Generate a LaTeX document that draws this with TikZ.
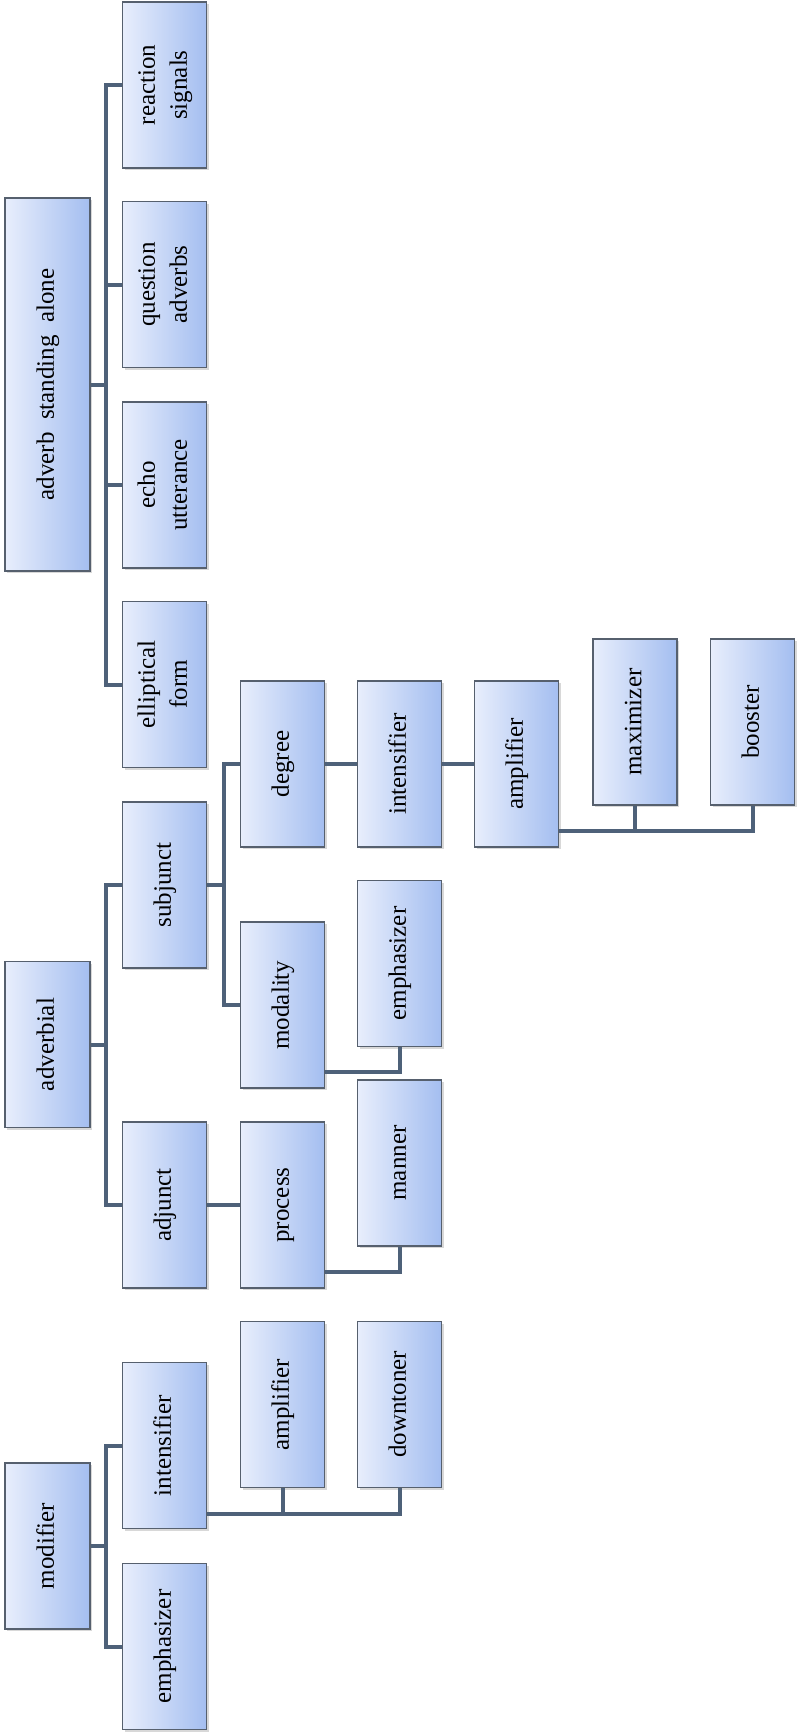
\documentclass[tikz,border=0pt]{standalone}
\usepackage{fontspec}
\setmainfont{Liberation Serif}
\usepackage{graphicx}
\usetikzlibrary{shadows}
\definecolor{boxL}{HTML}{E8EEFC}
\definecolor{boxR}{HTML}{A4BEF0}
\definecolor{boxB}{HTML}{56606E}
\definecolor{lnk}{HTML}{4E6179}
\newcommand{\rtxt}[1]{\rotatebox{90}{\begin{tabular}{@{}c@{}}#1\end{tabular}}}
\begin{document}
\begin{tikzpicture}[x=1pt,y=-1pt,
  box/.style={draw=boxB, line width=1.1pt, left color=boxL, right color=boxR,
    minimum width=84pt, minimum height=166pt, inner sep=0pt,
    font=\fontsize{25}{32}\selectfont,
    drop shadow={opacity=0.3, shadow xshift=2pt, shadow yshift=-2pt}},
  link/.style={draw=lnk, line width=4pt, line join=miter}]
\useasboundingbox (0,0) rectangle (798,1733);
\fill[white] (0,0) rectangle (798,1733);

% adverb standing alone branch
\node[box, minimum height=373pt, minimum width=85pt] (asa) at (47.5,384.5) {\rtxt{adverb\ \ standing\ \ alone}};
\node[box] (rs) at (164.5,85) {\rtxt{reaction\\signals}};
\node[box] (qa) at (164.5,284.5) {\rtxt{question\\adverbs}};
\node[box] (eu) at (164.5,485) {\rtxt{echo\\utterance}};
\node[box] (ef) at (164.5,684.5) {\rtxt{elliptical\\form}};

% adverbial branch
\node[box, minimum width=85pt] (adv) at (47.5,1044.5) {\rtxt{adverbial}};
\node[box] (subj) at (164.5,885) {\rtxt{subjunct}};
\node[box] (adj) at (164.5,1205) {\rtxt{adjunct}};
\node[box] (deg) at (282.5,764) {\rtxt{degree}};
\node[box] (mod) at (282.5,1005) {\rtxt{modality}};
\node[box] (proc) at (282.5,1205) {\rtxt{process}};
\node[box] (int2) at (399.5,764) {\rtxt{intensifier}};
\node[box] (emph2) at (399.5,963.5) {\rtxt{emphasizer}};
\node[box] (man) at (399.5,1163) {\rtxt{manner}};
\node[box] (amp2) at (516.5,764) {\rtxt{amplifier}};
\node[box] (max) at (635,722) {\rtxt{maximizer}};
\node[box] (boo) at (752.5,722) {\rtxt{booster}};

% modifier branch
\node[box, minimum width=85pt] (modi) at (47.5,1546) {\rtxt{modifier}};
\node[box] (int1) at (164.5,1445.5) {\rtxt{intensifier}};
\node[box] (emph1) at (164.5,1646.5) {\rtxt{emphasizer}};
\node[box] (amp1) at (282.5,1404.5) {\rtxt{amplifier}};
\node[box] (down) at (399.5,1404.5) {\rtxt{downtoner}};

% connectors
\draw[link] (asa.east) -- ++(15,0) coordinate (tA);
\foreach \c in {rs,qa,eu,ef} \draw[link] (\c.west) -| (tA);

\draw[link] (adv.east) -- ++(15,0) coordinate (tB);
\draw[link] (subj.west) -| (tB);
\draw[link] (adj.west) -| (tB);

\draw[link] (subj.east) -- ++(17,0) coordinate (tC);
\draw[link] (deg.west) -| (tC);
\draw[link] (mod.west) -| (tC);

\draw[link] (adj.east) -- (proc.west);
\draw[link] (deg.east) -- (int2.west);
\draw[link] (int2.east) -- (amp2.west);

\draw[link] ([yshift=17pt]amp2.south east) coordinate (hA) -| (boo.south);
\draw[link] (max.south) |- (hA);
\draw[link] ([yshift=17pt]mod.south east) -| (emph2.south);
\draw[link] ([yshift=17pt]proc.south east) -| (man.south);

\draw[link] (modi.east) -- ++(15,0) coordinate (tD);
\draw[link] (int1.west) -| (tD);
\draw[link] (emph1.west) -| (tD);
\draw[link] ([yshift=15pt]int1.south east) coordinate (hB) -| (down.south);
\draw[link] (amp1.south) |- (hB);
\end{tikzpicture}
\end{document}
